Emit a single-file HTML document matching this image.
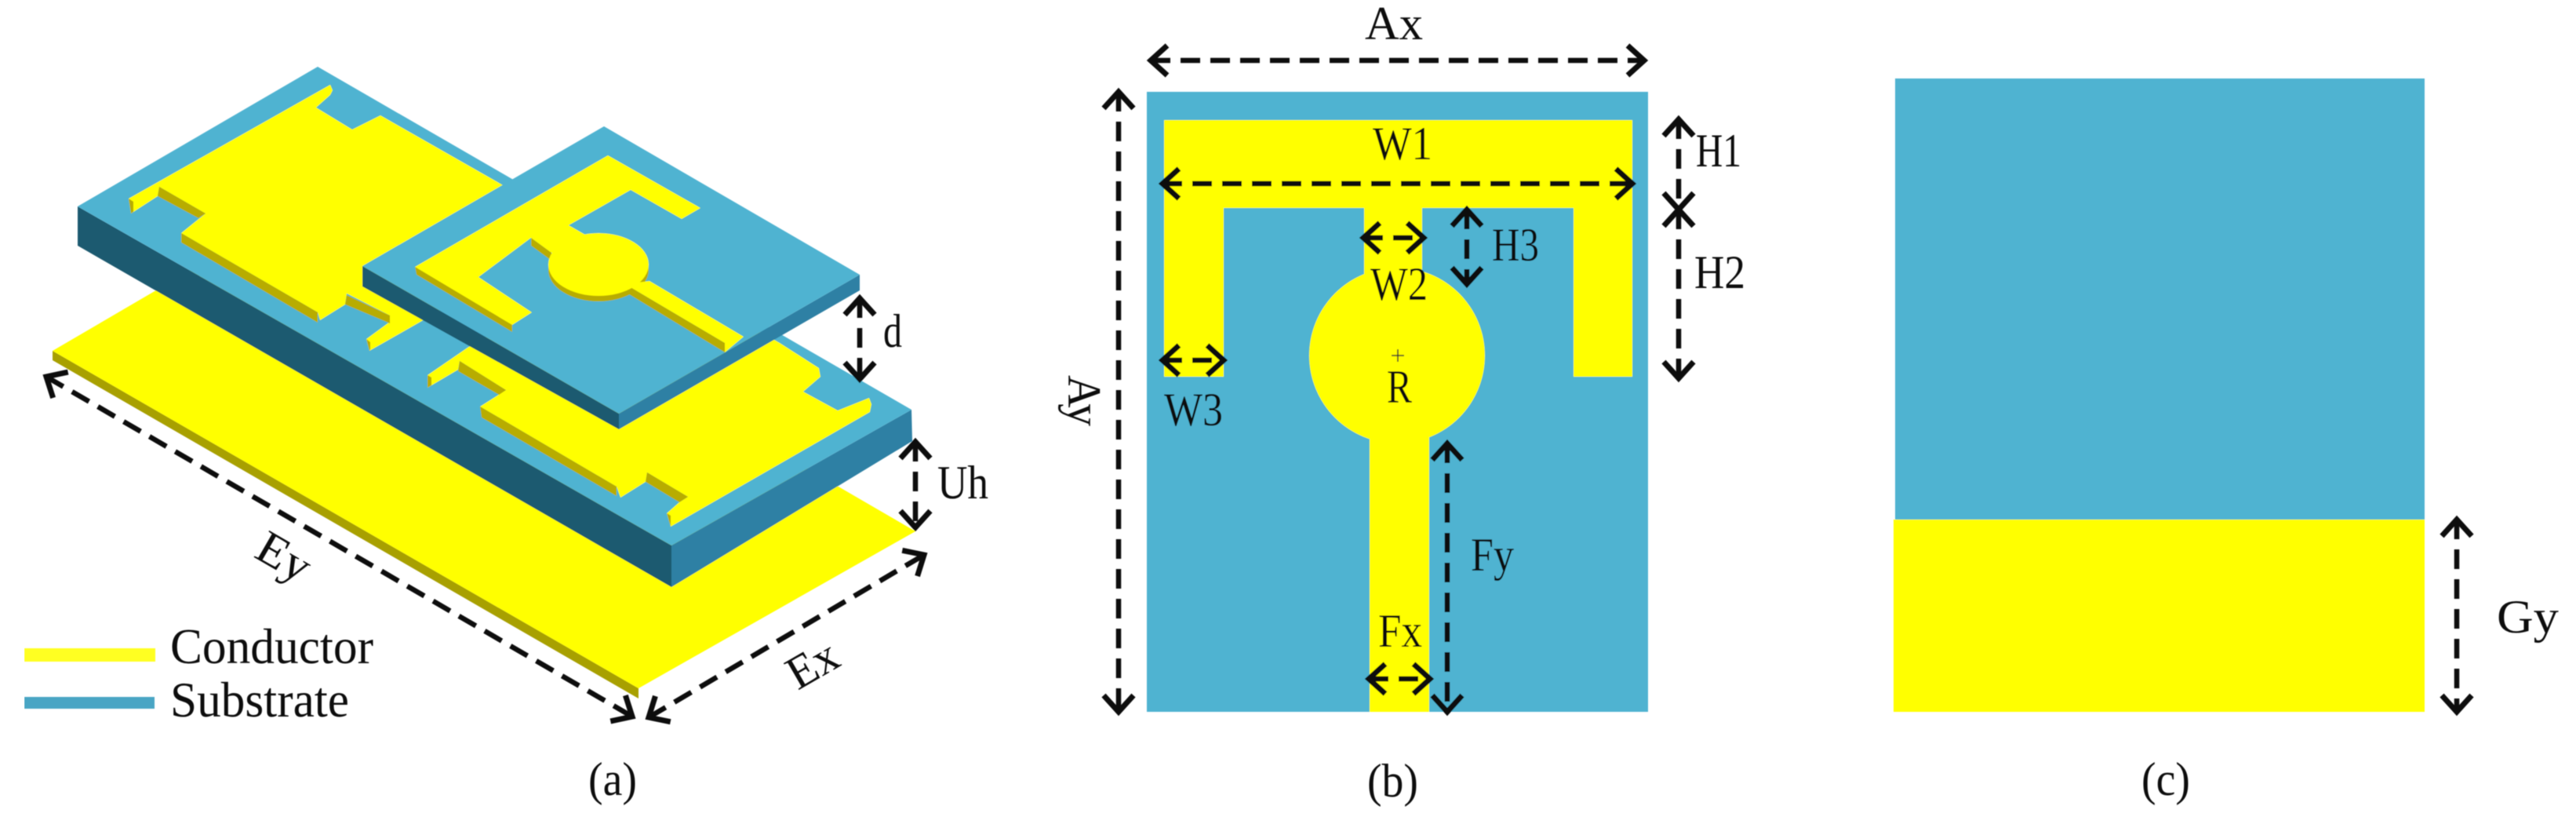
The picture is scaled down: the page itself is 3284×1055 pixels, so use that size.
<!DOCTYPE html>
<html><head><meta charset="utf-8"><style>
html,body{margin:0;padding:0;background:#fff;width:3284px;height:1055px;overflow:hidden}
svg{display:block}
text{font-family:"Liberation Serif","Times New Roman",serif;font-size:60px;fill:#111}
.d{stroke:#0c0c0c;stroke-width:6.5;fill:none;stroke-dasharray:25 13;marker-start:url(#h);marker-end:url(#h)}
</style></head><body>
<svg width="3284" height="1055" viewBox="0 0 3284 1055" xmlns="http://www.w3.org/2000/svg">
<defs>
<marker id="h" markerUnits="userSpaceOnUse" markerWidth="50" markerHeight="50" refX="26" refY="25" orient="auto-start-reverse" viewBox="0 0 50 50">
<path d="M5 6 L26 25 L5 44" fill="none" stroke="#0c0c0c" stroke-width="7"/>
</marker>
<filter id="b" x="0" y="0" width="100%" height="100%"><feGaussianBlur stdDeviation="0.6"/></filter>
</defs>
<g filter="url(#b)">
<!-- panel a: ground -->
<polygon points="67,447 814,877 814,890 67,459" fill="#a8a000"/>
<polygon points="67,447 418,242 1167,677 814,877" fill="#ffff00"/>
<!-- lower substrate -->
<polygon points="99,263 856,695 856,748 99,313" fill="#1f5a70"/>
<polygon points="856,695 1162,522 1163,562 856,748" fill="#2e80a4"/>
<polygon points="405,85 1162,522 856,695 99,263" fill="#4fb3d1"/>
<!-- lower patch -->
<polygon fill="#ffff00" points="164,253 421,108 424,115 421,121 403,137 449,165 485,147 994,437 1044,469 1046,480 1024,499 1068,523 1108,507 1111,515 1109,525 855,671 850,654 866,640 877,633 825,602 823,614 791,634 786,620 612,518 645,497 586,460 584,471 545,494 545,478 596,443 697,383 640,350 536,410 471,447 467,432 497,410 497,402 442,374 440,388 408,408 405,398 231,297 262,272 203,238 201,250 167,272"/>
<g fill="#b8ac00">
<polygon points="203,238 262,272 253,278 201,250"/>
<polygon points="231,297 405,398 405,411 231,309"/>
<polygon points="442,376 497,402 497,412 440,388"/>
<polygon points="586,460 645,497 636,503 584,473"/>
<polygon points="612,518 786,620 786,632 614,532"/>
<polygon points="825,602 877,633 866,640 823,614"/>
<polygon points="164,253 170,257 170,270 167,272"/>
<polygon points="467,432 472,436 472,445 471,447"/>
<polygon points="545,478 550,481 550,491 545,494"/>
<polygon points="850,654 855,657 855,671"/>
</g>
<!-- upper substrate -->
<polygon points="462,339 789,527 789,547 462,365" fill="#1f5a70"/>
<polygon points="789,527 1096,350 1096,370 789,547" fill="#2e80a4"/>
<polygon points="770,161 1096,350 789,527 462,339" fill="#4fb3d1"/>
<!-- upper patch -->
<g fill="#b8ac00">
<ellipse cx="763" cy="344" rx="64" ry="40"/>
<polygon points="529,340 653,412 653,423 531,350"/>
<polygon points="797,362 924,437 924,449 797,372"/>
<polygon points="677,303 703,322 703,332 677,313"/>
</g>
<g fill="#ffff00">
<polygon points="529,340 775,198 893,265 869,279 804,242 725,287 746,299 760,335 703,322 677,303 610,353 678,398 653,414"/>
<polygon points="828,358 948,429 924,449 924,437 797,362"/>
<ellipse cx="763" cy="337" rx="64" ry="40"/>
</g>
<!-- legend -->
<rect x="31" y="826" width="167" height="17" fill="#ffff20"/>
<rect x="31" y="888" width="166" height="15" fill="#4aa5c4"/>
<!-- panel b -->
<rect x="1462" y="117" width="639" height="790" fill="#4fb3d1"/>
<g fill="#ffff00">
<polygon points="1484,153 2081,153 2081,480 2006,480 2006,265 1813,265 1813,350 1739,350 1739,265 1560,265 1560,480 1484,480"/>
<circle cx="1781" cy="453" r="112"/>
<rect x="1746" y="550" width="76" height="357"/>
</g>
<!-- panel c -->
<rect x="2416" y="100" width="675" height="562" fill="#4fb3d1"/>
<rect x="2414" y="662" width="677" height="245" fill="#ffff00"/>
<!-- dimension arrows -->
<line class="d" x1="59" y1="480" x2="806" y2="913"/>
<line class="d" x1="827" y1="914" x2="1178" y2="707"/>
<line class="d" x1="1096" y1="380" x2="1096" y2="483"/>
<line class="d" x1="1167" y1="563" x2="1167" y2="672"/>
<line class="d" x1="1467" y1="77" x2="2096" y2="77"/>
<line class="d" x1="1482" y1="234" x2="2081" y2="234"/>
<line class="d" x1="1426" y1="117" x2="1426" y2="907"/>
<line class="d" x1="1738" y1="303" x2="1815" y2="303"/>
<line class="d" x1="1870" y1="267" x2="1870" y2="362"/>
<line class="d" x1="1482" y1="459" x2="1560" y2="459"/>
<line class="d" x1="1745" y1="865" x2="1823" y2="865"/>
<line class="d" x1="1845" y1="565" x2="1845" y2="907"/>
<line class="d" x1="2140" y1="152" x2="2140" y2="267"/>
<line class="d" x1="2140" y1="267" x2="2140" y2="482"/>
<line class="d" x1="3132" y1="662" x2="3132" y2="907"/>
<path d="M1774 453H1790M1782 445V461" stroke="#333" stroke-width="1.5" fill="none"/>
<!-- labels -->
<text x="217" y="845" style="font-size:64px" textLength="259" lengthAdjust="spacingAndGlyphs">Conductor</text>
<text x="217" y="913" style="font-size:64px" textLength="228" lengthAdjust="spacingAndGlyphs">Substrate</text>
<text transform="translate(322,709) rotate(30)" textLength="70" lengthAdjust="spacingAndGlyphs">Ey</text>
<text transform="translate(1017,880) rotate(-30)" textLength="66" lengthAdjust="spacingAndGlyphs">Ex</text>
<text x="1126" y="442" textLength="24" lengthAdjust="spacingAndGlyphs">d</text>
<text x="1195" y="635" textLength="65" lengthAdjust="spacingAndGlyphs">Uh</text>
<text x="750" y="1013" textLength="62" lengthAdjust="spacingAndGlyphs">(a)</text>
<text x="1740" y="50" textLength="74" lengthAdjust="spacingAndGlyphs">Ax</text>
<text x="1750" y="203" textLength="76" lengthAdjust="spacingAndGlyphs">W1</text>
<text x="1747" y="382" textLength="73" lengthAdjust="spacingAndGlyphs">W2</text>
<text x="1902" y="332" textLength="60" lengthAdjust="spacingAndGlyphs">H3</text>
<text x="1768" y="513" textLength="32" lengthAdjust="spacingAndGlyphs">R</text>
<text x="1484" y="542" textLength="75" lengthAdjust="spacingAndGlyphs">W3</text>
<text x="1875" y="727" textLength="55" lengthAdjust="spacingAndGlyphs">Fy</text>
<text x="1757" y="824" textLength="56" lengthAdjust="spacingAndGlyphs">Fx</text>
<text x="2162" y="212" textLength="58" lengthAdjust="spacingAndGlyphs">H1</text>
<text x="2160" y="367" textLength="65" lengthAdjust="spacingAndGlyphs">H2</text>
<text transform="translate(1362,478) rotate(90)" textLength="65" lengthAdjust="spacingAndGlyphs">Ay</text>
<text x="1743" y="1015" textLength="65" lengthAdjust="spacingAndGlyphs">(b)</text>
<text x="2730" y="1013" textLength="62" lengthAdjust="spacingAndGlyphs">(c)</text>
<text x="3183" y="806" textLength="79" lengthAdjust="spacingAndGlyphs">Gy</text>
</g>
</svg>
</body></html>
